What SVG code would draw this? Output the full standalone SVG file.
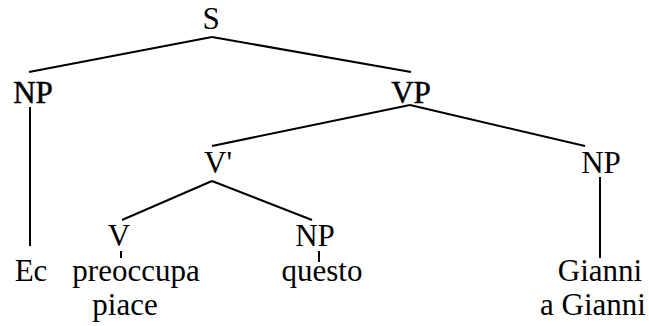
<svg xmlns="http://www.w3.org/2000/svg" width="649" height="326" viewBox="0 0 649 326">
  <style>
    .edge { stroke: #000; stroke-width: 2; fill: none; }
    .lbl { font-family: 'Liberation Serif', 'Times New Roman', serif; font-size: 31px; fill: #000; text-anchor: middle; }
    .heavy { stroke: #000; stroke-width: 0.5px; }
  </style>
  <rect width="649" height="326" fill="#fff"/>
  <g id="edges">
    <line class="edge" x1="212" y1="37" x2="29" y2="72"/>
    <line class="edge" x1="212" y1="37" x2="411" y2="72"/>
    <line class="edge" x1="30" y1="107" x2="30" y2="246"/>
    <line class="edge" x1="410" y1="105" x2="212" y2="146"/>
    <line class="edge" x1="410" y1="105" x2="585" y2="146"/>
    <line class="edge" x1="212" y1="181" x2="122" y2="220"/>
    <line class="edge" x1="212" y1="181" x2="312" y2="220"/>
    <line class="edge" x1="121" y1="251" x2="121" y2="258"/>
    <line class="edge" x1="319" y1="251" x2="319" y2="262"/>
    <line class="edge" x1="600" y1="177" x2="600" y2="258"/>
  </g>
  <g id="S"><text class="lbl" x="211" y="29">S</text></g>
  <g id="NP-subj"><text class="lbl heavy" x="33" y="103">NP</text></g>
  <g id="VP"><text class="lbl heavy" x="411" y="103">VP</text></g>
  <g id="Vbar"><text class="lbl" x="218" y="173">V'</text></g>
  <g id="NP-obj"><text class="lbl" x="601" y="173">NP</text></g>
  <g id="V"><text class="lbl" x="119" y="246">V</text></g>
  <g id="NP-questo"><text class="lbl" x="315" y="246">NP</text></g>
  <g id="Ec"><text class="lbl" x="31" y="281">Ec</text></g>
  <g id="verb">
    <text class="lbl" x="136" y="281">preoccupa</text>
    <text class="lbl" x="125" y="315">piace</text>
  </g>
  <g id="questo"><text class="lbl" x="322" y="281">questo</text></g>
  <g id="Gianni">
    <text class="lbl" x="600" y="281">Gianni</text>
    <text class="lbl" x="593" y="315">a Gianni</text>
  </g>
</svg>
